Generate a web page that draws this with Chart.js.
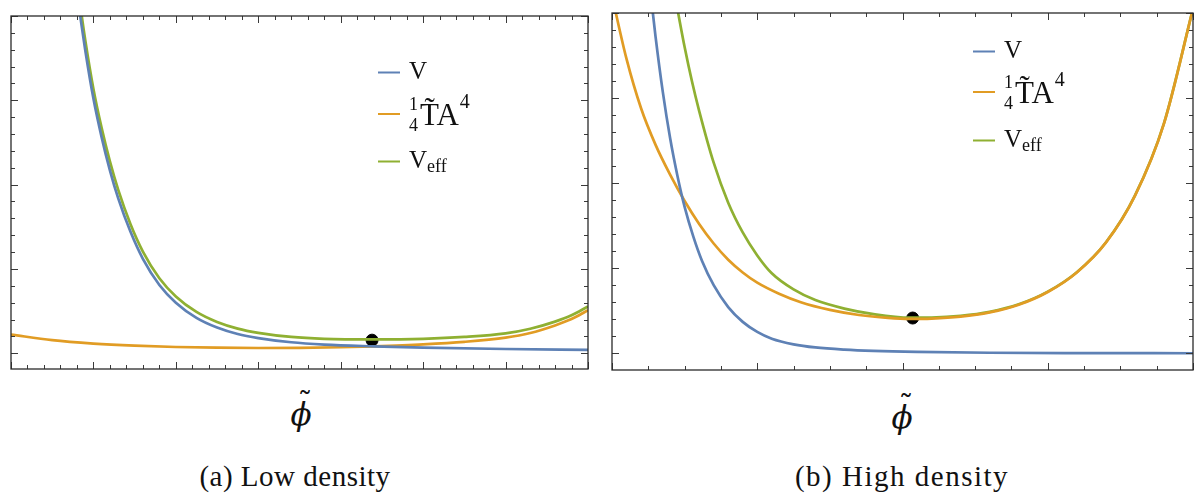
<!DOCTYPE html>
<html>
<head>
<meta charset="utf-8">
<script src="https://cdn.jsdelivr.net/npm/chart.js@4.4.1/dist/chart.umd.min.js"></script>
<style>
  body { margin: 0; width: 1200px; height: 495px; position: relative; overflow: hidden; background: #fff;
         font-family: "Liberation Serif", "DejaVu Serif", "Noto Serif", serif; color: #111; }
  canvas { position: absolute; }
  .leg { position: absolute; }
  .row { position: absolute; left: 0; display: flex; align-items: center; transform: translateY(-50%); white-space: nowrap; }
  .sw { width: 22px; height: 2px; margin-right: 9px; }
  .t1 { font-size: 25px; line-height: 1; position: relative; top: -2px; }
  .frac { display: inline-flex; flex-direction: column; align-items: center; font-size: 18px; line-height: 21px; margin-right: 2px; position: relative; top: 1px; }
  .big { font-size: 31px; line-height: 1; }
  .sup { font-size: 20px; line-height: 1; position: relative; top: -13px; margin-left: 1px; }
  .sub { font-size: 18px; line-height: 1; position: relative; top: 4px; }
  .phi { position: absolute; font-family: "DejaVu Serif", serif; font-size: 31px; font-style: italic; line-height: 1; transform: translateX(-50%); }
  .phi .tl { position: absolute; left: 7px; top: -11px; font-style: normal; font-size: 30px; }
  .cap { position: absolute; font-size: 29px; letter-spacing: 0.5px; line-height: 1; transform: translateX(-50%); white-space: nowrap; }
</style>
</head>
<body>
<canvas id="low" width="591" height="367" style="left:4px;top:9px"></canvas>
<canvas id="high" width="595" height="371" style="left:605px;top:6px"></canvas>
<div class="leg" id="legLow" style="left:378px;top:0"></div>
<div class="leg" id="legHigh" style="left:973px;top:0"></div>
<div class="phi" style="left:301px;top:399px">ϕ<span class="tl">˜</span></div>
<div class="phi" style="left:902px;top:402px">ϕ<span class="tl">˜</span></div>
<div class="cap" style="left:295px;top:462px">(a) Low density</div>
<div class="cap" style="left:902px;top:462px; letter-spacing:1.5px">(b) High density</div>
<script>
const BLUE = '#5e81b5', ORANGE = '#e19c24', GREEN = '#8fb032';

// (a) low density
const lowPhiV = [0.80, 0.85, 0.90, 1.00, 1.10, 1.20, 1.30, 1.45, 1.60, 1.80, 2.00, 2.25, 2.50, 2.75, 3.00, 3.40, 3.80, 4.40, 5.00, 6.00, 7.00];
const lowV = [4.30, 3.93, 3.60, 3.02, 2.56, 2.17, 1.84, 1.44, 1.12, 0.81, 0.60, 0.42, 0.305, 0.228, 0.180, 0.130, 0.103, 0.082, 0.066, 0.050, 0.040];
const lowPhiT = [0.0, 0.5, 1.0, 1.5, 2.0, 2.5, 3.0, 3.5, 4.0, 4.4, 5.0, 5.5, 6.0, 6.3, 6.6, 6.8, 7.0];
const lowT = [0.222, 0.155, 0.115, 0.090, 0.074, 0.066, 0.062, 0.064, 0.071, 0.082, 0.105, 0.135, 0.185, 0.240, 0.330, 0.405, 0.510];
const lowPhiEff = [0.80, 0.85, 0.90, 1.00, 1.10, 1.20, 1.30, 1.45, 1.60, 1.80, 2.00, 2.25, 2.50, 2.75, 3.00, 3.40, 3.80, 4.40, 5.00, 5.50, 6.00, 6.30, 6.60, 6.80, 7.00];
const lowEff = [4.45, 4.06, 3.72, 3.135, 2.67, 2.275, 1.94, 1.53, 1.206, 0.89, 0.674, 0.49, 0.371, 0.292, 0.242, 0.193, 0.171, 0.164, 0.171, 0.193, 0.235, 0.290, 0.375, 0.450, 0.555];
const lowDot = [4.38, 0.155];

// (b) high density
const highPhiV = [0.27, 0.30, 0.35, 0.40, 0.45, 0.50, 0.56, 0.62, 0.70, 0.80, 0.90, 1.00, 1.10, 1.25, 1.40, 1.60, 1.80, 2.10, 2.60, 3.20, 4.00];
const highV = [4.17, 3.72, 3.07, 2.53, 2.09, 1.72, 1.37, 1.084, 0.80, 0.543, 0.369, 0.251, 0.171, 0.105, 0.068, 0.042, 0.027, 0.015, 0.006, 0.002, 0.0];
const highPhiT = [0.0, 0.10, 0.20, 0.30, 0.40, 0.50, 0.60, 0.70, 0.80, 0.90, 1.00, 1.15, 1.30, 1.50, 1.70, 1.90, 2.05, 2.20, 2.40, 2.60, 2.80, 3.00, 3.20, 3.40, 3.60, 3.80, 4.00];
const highT = [4.20, 3.46, 2.88, 2.45, 2.10, 1.79, 1.52, 1.29, 1.10, 0.95, 0.83, 0.70, 0.60, 0.51, 0.45, 0.415, 0.403, 0.407, 0.43, 0.48, 0.57, 0.72, 0.95, 1.30, 1.85, 2.70, 4.05];
const highPhiEff = [0.45, 0.50, 0.55, 0.60, 0.70, 0.80, 0.90, 1.00, 1.10, 1.25, 1.40, 1.60, 1.80, 2.05, 2.20, 2.40, 2.60, 2.80, 3.00, 3.20, 3.40, 3.60, 3.80, 4.00];
const highEff = [4.05, 3.60, 3.20, 2.85, 2.24, 1.77, 1.42, 1.15, 0.94, 0.75, 0.625, 0.525, 0.46, 0.418, 0.42, 0.44, 0.487, 0.575, 0.724, 0.953, 1.302, 1.852, 2.702, 4.052];
const highDot = [2.07, 0.414];

const labels = ['V', '¼T̃A⁴', 'Veff'];

function pts(xs, ys) {
  return xs.map((x, i) => ({ x: x, y: ys[i] }));
}

// frame with inward ticks on all four sides, no tick labels
const frameTicks = {
  id: 'frameTicks',
  afterDatasetsDraw(chart, args, o) {
    const { ctx, chartArea: a, scales: { x, y } } = chart;
    ctx.save();
    ctx.strokeStyle = '#3a3a3a';
    ctx.lineWidth = 1;
    for (let i = Math.ceil(x.min / o.xStep - 1e-6); i <= Math.floor(x.max / o.xStep + 1e-6); i++) {
      const px = Math.round(x.getPixelForValue(i * o.xStep)) + 0.5;
      const len = i % o.xPer === 0 ? 7 : 4;
      ctx.beginPath();
      ctx.moveTo(px, a.bottom); ctx.lineTo(px, a.bottom - len);
      ctx.moveTo(px, a.top); ctx.lineTo(px, a.top + len);
      ctx.stroke();
    }
    for (let i = Math.ceil(y.min / o.yStep - 1e-6); i <= Math.floor(y.max / o.yStep + 1e-6); i++) {
      const py = Math.round(y.getPixelForValue(i * o.yStep)) + 0.5;
      const len = i % o.yPer === 0 ? 7 : 4;
      ctx.beginPath();
      ctx.moveTo(a.left, py); ctx.lineTo(a.left + len, py);
      ctx.moveTo(a.right, py); ctx.lineTo(a.right - len, py);
      ctx.stroke();
    }
    ctx.lineWidth = 1.3;
    ctx.strokeStyle = '#2a2a2a';
    ctx.strokeRect(a.left, a.top, a.right - a.left, a.bottom - a.top);
    ctx.restore();
  }
};

function makeChart(id, s, dot, xr, yr, pad, ticks) {
  return new Chart(document.getElementById(id), {
    type: 'line',
    data: {
      datasets: [
        { label: labels[0], data: pts(s[0], s[1]), borderColor: BLUE },
        { label: labels[1], data: pts(s[2], s[3]), borderColor: ORANGE },
        { label: labels[2], data: pts(s[4], s[5]), borderColor: GREEN },
        { type: 'scatter', label: 'min', data: [{ x: dot[0], y: dot[1] }], pointRadius: 6,
          backgroundColor: '#000', borderColor: '#000', showLine: false }
      ]
    },
    options: {
      responsive: false,
      animation: false,
      layout: { padding: pad },
      elements: {
        point: { radius: 0 },
        line: { borderWidth: 2.7, cubicInterpolationMode: 'monotone', fill: false }
      },
      plugins: { legend: { display: false }, tooltip: { enabled: false }, frameTicks: ticks },
      scales: {
        x: { type: 'linear', min: xr[0], max: xr[1], display: false },
        y: { type: 'linear', min: yr[0], max: yr[1], display: false }
      }
    },
    plugins: [frameTicks]
  });
}

const lowChart = makeChart('low', [lowPhiV, lowV, lowPhiT, lowT, lowPhiEff, lowEff], lowDot,
  [0, 7], [-0.187, 4], { left: 4, right: 4, top: 4, bottom: 4 },
  { xStep: 0.2, xPer: 5, yStep: 0.2, yPer: 5 });
const highChart = makeChart('high', [highPhiV, highV, highPhiT, highT, highPhiEff, highEff], highDot,
  [0, 4], [-0.197, 4], { left: 4, right: 2, top: 4, bottom: 4 },
  { xStep: 0.25, xPer: 4, yStep: 0.2, yPer: 5 });

// legend rows built from the chart's own datasets
function buildLegend(el, chart, rowsY) {
  const texts = [
    '<span class="t1">V</span>',
    '<span class="frac"><span>1</span><span>4</span></span><span class="big">T̃A</span><span class="sup">4</span>',
    '<span class="t1">V</span><span class="sub">eff</span>'
  ];
  chart.data.datasets.slice(0, 3).forEach((ds, i) => {
    const row = document.createElement('div');
    row.className = 'row';
    row.style.top = rowsY[i] + 'px';
    row.innerHTML = '<div class="sw" style="background:' + ds.borderColor + '"></div>' + texts[i];
    el.appendChild(row);
  });
}
buildLegend(document.getElementById('legLow'), lowChart, [72, 114, 161]);
buildLegend(document.getElementById('legHigh'), highChart, [51, 92, 140]);
</script>
</body>
</html>
